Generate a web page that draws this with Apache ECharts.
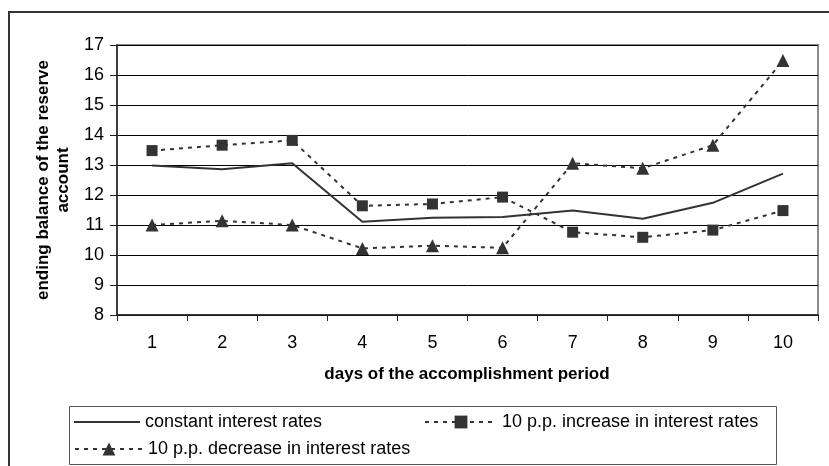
<!DOCTYPE html>
<html>
<head>
<meta charset="utf-8">
<script src="https://cdn.jsdelivr.net/npm/echarts@6/dist/echarts.min.js"></script>
<style>
html,body{margin:0;padding:0;background:#fff;}
#chart{width:829px;height:466px;}
</style>
</head>
<body>
<div id="chart"></div>
<script>
const days = ['1','2','3','4','5','6','7','8','9','10'];
const constantRates = [12.98, 12.86, 13.06, 11.11, 11.24, 11.27, 11.48, 11.21, 11.74, 12.71];
const increaseRates = [13.48, 13.66, 13.82, 11.64, 11.70, 11.93, 10.76, 10.59, 10.83, 11.48];
const decreaseRates = [11.00, 11.14, 11.00, 10.22, 10.31, 10.24, 13.06, 12.89, 13.66, 16.48];
const seriesNames = ['constant interest rates', '10 p.p. increase in interest rates', '10 p.p. decrease in interest rates'];
const yTitle = 'ending balance of the reserve\naccount';
const xTitle = 'days of the accomplishment period';

const FONT = 'Liberation Sans, Arial, sans-serif';
const chart = echarts.init(document.getElementById('chart'), null, {renderer:'canvas'});
const legendText = {fontFamily: FONT, fontSize: 18, color: '#000'};
chart.setOption({
  animation: false,
  backgroundColor: '#fff',
  grid: {left: 117, right: 11, top: 45, bottom: 151, show: true, borderColor: '#8a8a8a', borderWidth: 2},
  xAxis: {
    type: 'category', data: days, boundaryGap: true,
    axisLine: {show: true, lineStyle: {color: '#222', width: 1.5}},
    axisTick: {show: true, inside: false, length: 6, interval: 0, lineStyle: {color: '#222'}},
    axisLabel: {fontFamily: FONT, fontSize: 18, color: '#000', margin: 19, interval: 0},
    splitLine: {show: false}
  },
  yAxis: {
    type: 'value', min: 8, max: 17, interval: 1,
    axisLine: {show: true, lineStyle: {color: '#222', width: 1.5}},
    axisTick: {show: true, inside: false, length: 7, lineStyle: {color: '#222'}},
    axisLabel: {fontFamily: FONT, fontSize: 18, color: '#000', margin: 13},
    splitLine: {show: true, lineStyle: {color: '#000', width: 1}}
  },
  legend: [
    {data: [{name: seriesNames[0], icon: 'rect'}], left: 74, top: 413, itemWidth: 66, itemHeight: 2, textStyle: legendText, padding: 0,
     itemStyle: {color: '#333'}},
    {data: [seriesNames[1]], left: 424, top: 413, itemWidth: 72, itemHeight: 16, textStyle: legendText, padding: 0},
    {data: [seriesNames[2]], left: 74, top: 440, itemWidth: 68, itemHeight: 16, textStyle: legendText, padding: 0}
  ],
  graphic: [
    {type: 'rect', silent: true, shape: {x: 9, y: 12, width: 840, height: 480}, style: {fill: 'none', stroke: '#333', lineWidth: 2}},
    {type: 'rect', silent: true, shape: {x: 69.5, y: 406.5, width: 707, height: 58}, style: {fill: 'none', stroke: '#555', lineWidth: 1}},
    {type: 'text', silent: true, x: 467, y: 374, style: {text: xTitle, font: 'bold 17px ' + FONT, fill: '#000', align: 'center', verticalAlign: 'middle'}},
    {type: 'text', silent: true, x: 53, y: 180, rotation: Math.PI / 2, style: {text: yTitle, font: 'bold 17px ' + FONT, fill: '#000', align: 'center', verticalAlign: 'middle', lineHeight: 20}}
  ],
  series: [
    {name: seriesNames[0], type: 'line', data: constantRates, showSymbol: false, symbol: 'none',
     lineStyle: {color: '#333', width: 2, type: 'solid'}, itemStyle: {color: '#333'}},
    {name: seriesNames[1], type: 'line', data: increaseRates, symbol: 'rect', symbolSize: 11,
     lineStyle: {color: '#333', width: 2, type: [4, 5]}, itemStyle: {color: '#333'}},
    {name: seriesNames[2], type: 'line', data: decreaseRates, symbol: 'triangle', symbolSize: 13,
     lineStyle: {color: '#333', width: 2, type: [4, 5]}, itemStyle: {color: '#333'}}
  ]
});
</script>
</body>
</html>
